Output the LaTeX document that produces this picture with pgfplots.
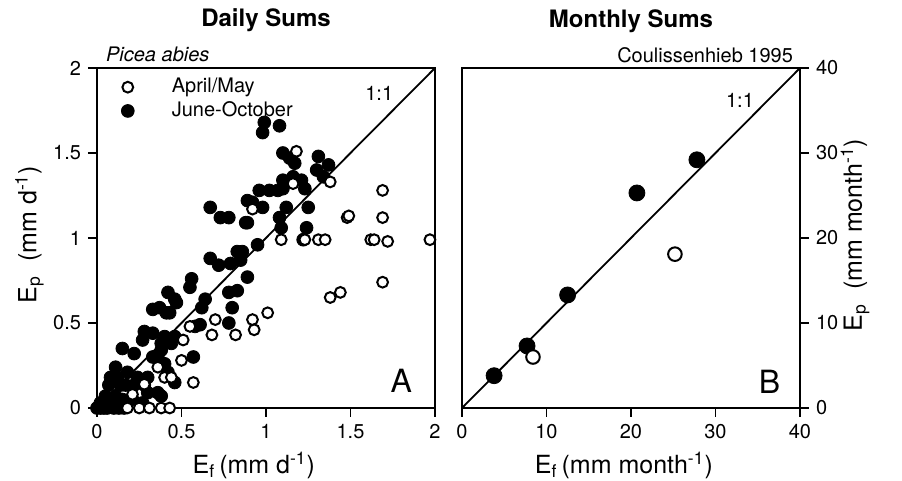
\documentclass[border=0pt]{standalone}
\usepackage{fontspec}
\setmainfont{TeX Gyre Heros}
\usepackage{pgfplots}
\pgfplotsset{compat=1.18}

% daily sums, June-October (filled)
\pgfplotstableread{
x y
0.99 1.68
1.08 1.66
0.98 1.62
1.10 1.50
1.14 1.47
1.17 1.44
1.31 1.48
1.30 1.40
1.37 1.43
1.34 1.36
1.10 1.34
1.16 1.36
1.21 1.34
1.23 1.29
0.96 1.28
1.02 1.28
1.07 1.28
1.10 1.29
0.89 1.22
0.92 1.21
0.98 1.18
0.89 1.09
1.12 1.18
1.08 1.12
1.25 1.18
1.09 1.06
1.24 1.06
1.22 0.99
0.95 0.96
0.86 0.92
0.85 0.87
0.89 0.77
0.67 1.18
0.73 1.12
0.78 1.12
0.88 1.09
0.67 0.88
0.72 0.84
0.79 0.85
0.83 0.92
0.56 0.76
0.55 0.71
0.42 0.68
0.46 0.64
0.47 0.62
0.33 0.58
0.37 0.59
0.41 0.56
0.43 0.56
0.64 0.64
0.62 0.59
0.78 0.68
0.83 0.69
0.80 0.59
0.78 0.50
0.61 0.49
0.58 0.48
0.28 0.45
0.27 0.40
0.40 0.42
0.46 0.42
0.33 0.44
0.38 0.38
0.44 0.38
0.15 0.35
0.22 0.32
0.33 0.30
0.38 0.34
0.36 0.30
0.40 0.26
0.42 0.21
0.57 0.30
0.11 0.24
0.08 0.18
0.12 0.18
0.18 0.21
0.24 0.18
0.30 0.18
0.07 0.135
0.14 0.135
0.17 0.135
0.22 0.135
0.28 0.135
0.46 0.15
0.30 0.09
0.36 0.09
0.38 0.07
0.05 0.07
0.11 0.07
0.15 0.05
0.02 0.03
0.07 0.02
0.21 0.05
0.27 0.03
0.00 0.00
0.02 0.00
0.04 0.00
0.06 0.00
0.10 0.00
0.13 0.00
0.16 0.00
}\dailyJO

% daily sums, April/May (open)
\pgfplotstableread{
x y
1.18 1.51
1.16 1.32
0.92 1.17
1.38 1.33
1.48 1.12
1.09 0.99
1.23 0.99
1.31 0.99
1.35 0.99
1.44 0.68
1.38 0.65
0.92 0.52
0.93 0.46
1.01 0.56
1.69 1.28
1.49 1.13
1.69 1.12
1.62 0.99
1.64 0.99
1.72 0.98
1.97 0.99
1.69 0.74
0.70 0.52
0.55 0.48
0.68 0.43
0.82 0.43
0.51 0.40
0.50 0.28
0.36 0.24
0.40 0.18
0.44 0.18
0.57 0.15
0.28 0.14
0.21 0.08
0.18 0.00
0.25 0.00
0.31 0.00
0.38 0.00
0.43 0.00
}\dailyAM

\begin{document}
\begin{tikzpicture}
\pgfplotsset{
  panel/.style={
    scale only axis, width=169pt, height=170pt,
    axis line style={line width=0.9pt},
    tick align=outside, major tick length=4.5pt,
    tick style={line width=0.8pt, black},
    ticklabel style={font=\fontsize{10}{12}\selectfont},
    /pgf/number format/assume math mode=true,
    label style={font=\fontsize{12.5}{14}\selectfont},
    xtick pos=lower, clip=false,
  },
  filled/.style={only marks, mark=*, mark size=3.2pt, mark options={fill=black, draw=black}},
  open/.style={only marks, mark=*, mark size=2.7pt, mark options={fill=white, draw=black, line width=1pt}},
}

\begin{axis}[panel, at={(48.5pt,36.5pt)}, anchor=south west,
  xmin=0, xmax=2, ymin=0, ymax=2,
  xtick={0,0.5,...,2}, ytick={0,0.5,...,2},
  ytick pos=lower,
  xlabel={E\textsubscript{f}\,(mm d\textsuperscript{-1})},
  xlabel style={at={(axis description cs:0.464,-0.168)}, anchor=center},
  ylabel={E\textsubscript{p}\ \ (mm d\textsuperscript{-1})},
  ylabel style={at={(axis description cs:-0.2,0.51)}, anchor=center},
  legend style={at={(axis description cs:0,1)}, anchor=north west, draw=none, fill=none,
    font=\fontsize{10}{12}\selectfont, row sep=-1pt, xshift=9pt, yshift=-1pt},
  legend cell align=left,
  legend image code/.code={\draw[#1] plot coordinates {(0pt,0pt)}; \path[draw=none] (0pt,0pt) -- (20pt,0pt);},
]
\addlegendimage{open}\addlegendentry{April/May}
\addlegendimage{filled}\addlegendentry{June-October}
\addplot[black, line width=0.9pt, forget plot] coordinates {(0,0) (2,2)};
\addplot[filled, forget plot] table {\dailyJO};
\addplot[open, forget plot] table {\dailyAM};
\node[font=\fontsize{10}{12}\selectfont] at (axis cs:1.67,1.85) {1:1};
\node[font=\fontsize{16}{18}\selectfont] at (axis cs:1.80,0.16) {A};
\node[anchor=base west, font=\itshape\fontsize{10}{12}\selectfont, xshift=1pt, yshift=3pt]
  at (rel axis cs:0,1) {Picea abies};
\node[anchor=base, font=\bfseries\fontsize{12}{14}\selectfont, yshift=20.5pt]
  at (rel axis cs:0.5,1) {Daily Sums};
\end{axis}

\begin{axis}[panel, at={(231pt,36.5pt)}, anchor=south west,
  xmin=0, xmax=40, ymin=0, ymax=40,
  xtick={0,10,...,40}, ytick={0,10,...,40},
  ytick pos=upper, yticklabel pos=upper,
  xlabel={E\textsubscript{f}\,(mm month\textsuperscript{-1})},
  xlabel style={at={(axis description cs:0.479,-0.168)}, anchor=center},
  ylabel={E\textsubscript{p}\ \ (mm month\textsuperscript{-1})},
  ylabel style={at={(axis description cs:1.163,0.509)}, anchor=center, rotate=0},
]
\addplot[black, line width=0.9pt] coordinates {(0,0) (40,40)};
\addplot[filled, mark size=4pt] coordinates {(3.8,3.8) (7.7,7.3) (12.5,13.3) (20.7,25.3) (27.8,29.2)};
\addplot[open, mark size=3.4pt] coordinates {(8.4,6.0) (25.2,18.1)};
\node[font=\fontsize{10}{12}\selectfont] at (axis cs:32.9,36.2) {1:1};
\node[font=\fontsize{16}{18}\selectfont] at (axis cs:36.4,3.1) {B};
\node[anchor=base east, font=\fontsize{10}{12}\selectfont, yshift=3pt]
  at (rel axis cs:1,1) {Coulissenhieb 1995};
\node[anchor=base, font=\bfseries\fontsize{12}{14}\selectfont, yshift=20.5pt]
  at (rel axis cs:0.5,1) {Monthly Sums};
\end{axis}

\pgfresetboundingbox
\useasboundingbox (0pt,0pt) rectangle (451pt,240.5pt);
\end{tikzpicture}
\end{document}
